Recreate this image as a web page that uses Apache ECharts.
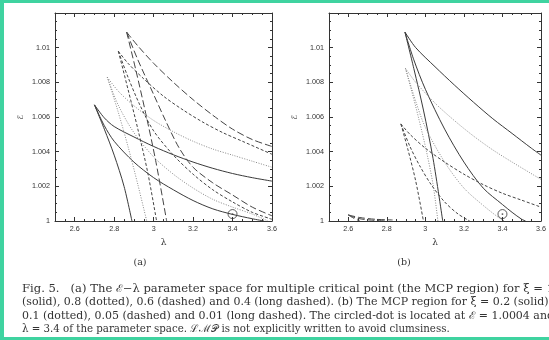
<!DOCTYPE html>
<html><head><meta charset="utf-8">
<script src="https://cdn.jsdelivr.net/npm/echarts@6/dist/echarts.min.js"></script>
<style>html,body{margin:0;padding:0;background:#fff;}#c{width:549px;height:340px;}</style>
</head><body><div id="c"></div>
<script>
// ---- Panel (a): xi = 1 (solid), 0.8 (dotted), 0.6 (dashed), 0.4 (long dashed)
const aSolidSteep = [[2.70,1.0067],[2.75,1.0053],[2.80,1.0038],[2.85,1.0020],[2.89,1.0000]];
const aSolidUpper = [[2.70,1.0067],[2.75,1.00595],[2.80,1.00545],[2.90,1.00485],[3.00,1.0043],[3.10,1.00382],[3.20,1.0034],[3.30,1.00304],[3.40,1.00274],[3.50,1.0025],[3.60,1.0023]];
const aSolidLower = [[2.70,1.0067],[2.75,1.0055],[2.80,1.0046],[2.90,1.0034],[3.00,1.0025],[3.10,1.0018],[3.20,1.00118],[3.30,1.0007],[3.40,1.00038],[3.50,1.00013],[3.56,1.0000]];
const aDotSteep = [[2.765,1.0083],[2.82,1.0063],[2.87,1.0043],[2.92,1.0021],[2.965,1.0000]];
const aDotUpper = [[2.765,1.0083],[2.82,1.0075],[2.90,1.00665],[3.00,1.0058],[3.10,1.00515],[3.20,1.0046],[3.30,1.00415],[3.40,1.0038],[3.50,1.00345],[3.60,1.0031]];
const aDotLower = [[2.765,1.0083],[2.82,1.0067],[2.90,1.0051],[3.00,1.0037],[3.10,1.0027],[3.20,1.0019],[3.30,1.00125],[3.40,1.0008],[3.50,1.0004],[3.58,1.0000]];
const aDashSteep = [[2.821,1.0098],[2.87,1.0076],[2.92,1.0053],[2.97,1.0028],[3.015,1.0000]];
const aDashUpper = [[2.821,1.0098],[2.87,1.0091],[2.95,1.0082],[3.05,1.0072],[3.15,1.0064],[3.25,1.0057],[3.35,1.0051],[3.45,1.0046],[3.60,1.00385]];
const aDashLower = [[2.821,1.0098],[2.87,1.0083],[2.93,1.0067],[3.00,1.0052],[3.10,1.0038],[3.20,1.0027],[3.30,1.0018],[3.40,1.0011],[3.50,1.0005],[3.60,1.0001]];
const aLongSteep = [[2.863,1.0109],[2.91,1.0087],[2.96,1.0062],[3.01,1.0035],[3.066,1.0000]];
const aLongUpper = [[2.863,1.0109],[2.92,1.0101],[3.00,1.0091],[3.10,1.0080],[3.20,1.0070],[3.30,1.0061],[3.40,1.0053],[3.50,1.0047],[3.60,1.0043]];
const aLongLower = [[2.863,1.0109],[2.92,1.0093],[3.00,1.0073],[3.06,1.0058],[3.13,1.0042],[3.20,1.0031],[3.30,1.0022],[3.40,1.0015],[3.50,1.0008],[3.60,1.0003]];
// ---- Panel (b): xi = 0.2 (solid), 0.1 (dotted), 0.05 (dashed), 0.01 (long dashed)
const bSolidSteep = [[2.894,1.0109],[2.94,1.0088],[2.99,1.0064],[3.04,1.0036],[3.09,1.0000]];
const bSolidUpper = [[2.894,1.0109],[2.95,1.0100],[3.05,1.0089],[3.15,1.00785],[3.25,1.00685],[3.35,1.0059],[3.45,1.00505],[3.55,1.0042],[3.60,1.0038]];
const bSolidLower = [[2.894,1.0109],[2.94,1.0093],[3.00,1.0076],[3.10,1.0053],[3.20,1.0034],[3.30,1.0019],[3.40,1.00095],[3.45,1.0005],[3.50,1.0001],[3.52,1.0000]];
const bDotSteep = [[2.897,1.0088],[2.95,1.0066],[3.00,1.0043],[3.04,1.0021],[3.065,1.0000]];
const bDotUpper = [[2.897,1.0088],[2.95,1.0080],[3.05,1.0068],[3.15,1.0058],[3.25,1.0049],[3.35,1.0041],[3.45,1.0034],[3.60,1.0024]];
const bDotLower = [[2.897,1.0088],[2.95,1.0069],[3.00,1.0054],[3.10,1.0034],[3.20,1.0019],[3.30,1.0009],[3.38,1.0002],[3.41,1.0000]];
const bDashSteep = [[2.873,1.0056],[2.91,1.0041],[2.95,1.0023],[2.99,1.0000]];
const bDashUpper = [[2.873,1.0056],[2.92,1.0050],[3.00,1.0042],[3.10,1.0034],[3.20,1.0027],[3.30,1.0021],[3.40,1.0016],[3.50,1.0012],[3.60,1.0008]];
const bDashLower = [[2.873,1.0056],[2.92,1.0043],[2.97,1.0032],[3.03,1.0021],[3.10,1.0011],[3.17,1.0004],[3.23,1.0000]];
const bLongA = [[2.60,1.00035],[2.63,1.00015],[2.66,1.0000]];
const bLongB = [[2.60,1.00035],[2.65,1.00015],[2.72,1.00005],[2.80,1.0000]];
const bLongC = [[2.60,1.00035],[2.66,1.00020],[2.74,1.00010],[2.83,1.00006]];
// circled dot
const circledDot = [[3.4, 1.0004]];
// axes
const xRange = [2.5, 3.6];
const yRange = [1, 1.012];
const yStep = 0.002;
const captionLines = [
  "Fig. 5.   (a) The \u2130\u2212\u03bb parameter space for multiple critical point (the MCP region) for \u03be = 1",
  "(solid), 0.8 (dotted), 0.6 (dashed) and 0.4 (long dashed). (b) The MCP region for \u03be = 0.2 (solid),",
  "0.1 (dotted), 0.05 (dashed) and 0.01 (long dashed). The circled-dot is located at \u2130 = 1.0004 and",
  "\u03bb = 3.4 of the parameter space. \u2112\u2133\ud835\udcab is not explicitly written to avoid clumsiness."
];
const captionRight = [554, 552, 554, 0];   // right end of each justified line (0 = natural width)
const panelLabels = ["(a)", "(b)"];

const chart = echarts.init(document.getElementById('c'), null, {renderer: 'canvas'});
const axCol = '#333';
const lblFont = {fontFamily: 'Liberation Sans', fontSize: 7.2, color: '#333'};
function xAx(g, pos) {
  return {type: 'value', gridIndex: g, position: pos, min: xRange[0], max: xRange[1], splitNumber: 5,
    axisLine: {show: true, lineStyle: {color: axCol, width: 1}},
    axisTick: {show: true, inside: true, length: 4, lineStyle: {color: axCol}},
    minorTick: {show: true, splitNumber: 4, length: 2, lineStyle: {color: axCol}},
    splitLine: {show: false},
    axisLabel: pos === 'bottom' ? Object.assign({show: true, margin: 5, showMinLabel: false,
      formatter: v => String(+v.toFixed(3))}, lblFont) : {show: false},
    name: pos === 'bottom' ? '\u03bb' : '', nameLocation: 'middle', nameGap: 17,
    nameTextStyle: {fontFamily: 'DejaVu Serif', fontSize: 9, color: '#333'}};
}
function yAx(g, pos) {
  return {type: 'value', gridIndex: g, position: pos, min: yRange[0], max: yRange[1], interval: yStep,
    axisLine: {show: true, lineStyle: {color: axCol, width: 1}},
    axisTick: {show: true, inside: true, length: 4, lineStyle: {color: axCol}},
    minorTick: {show: true, splitNumber: 4, length: 2, lineStyle: {color: axCol}},
    splitLine: {show: false},
    axisLabel: pos === 'left' ? Object.assign({show: true, margin: 5, showMaxLabel: false,
      formatter: v => String(+v.toFixed(4))}, lblFont) : {show: false},
    name: pos === 'left' ? '\u2130' : '', nameLocation: 'middle', nameGap: 30, nameRotate: 90,
    nameTextStyle: {fontFamily: 'DejaVu Sans', fontSize: 8, color: '#333'}};
}
const styles = {
  solid: {color: '#3a3a3a', type: 'solid', width: 1},
  dotted: {color: '#8a8a8a', type: [1, 1.5], width: 1},
  dashed: {color: '#444', type: [3, 2], width: 1},
  long: {color: '#444', type: [7, 3], width: 1}
};
function ln(data, g, st) {
  return {type: 'line', xAxisIndex: g * 2, yAxisIndex: g * 2, data: data, smooth: 0.3,
    showSymbol: false, symbol: 'none', lineStyle: styles[st], silent: true, z: 3};
}
const series = [
  ln(aSolidSteep,0,'solid'), ln(aSolidUpper,0,'solid'), ln(aSolidLower,0,'solid'),
  ln(aDotSteep,0,'dotted'), ln(aDotUpper,0,'dotted'), ln(aDotLower,0,'dotted'),
  ln(aDashSteep,0,'dashed'), ln(aDashUpper,0,'dashed'), ln(aDashLower,0,'dashed'),
  ln(aLongSteep,0,'long'), ln(aLongUpper,0,'long'), ln(aLongLower,0,'long'),
  ln(bSolidSteep,1,'solid'), ln(bSolidUpper,1,'solid'), ln(bSolidLower,1,'solid'),
  ln(bDotSteep,1,'dotted'), ln(bDotUpper,1,'dotted'), ln(bDotLower,1,'dotted'),
  ln(bDashSteep,1,'dashed'), ln(bDashUpper,1,'dashed'), ln(bDashLower,1,'dashed'),
  ln(bLongA,1,'long'), ln(bLongB,1,'long'), ln(bLongC,1,'long')
];
[0, 1].forEach(g => {
  series.push({type: 'scatter', xAxisIndex: g * 2, yAxisIndex: g * 2, data: circledDot, symbol: 'circle',
    symbolSize: 9, itemStyle: {color: 'none', borderColor: '#333', borderWidth: 1}, silent: true, z: 4});
  series.push({type: 'scatter', xAxisIndex: g * 2, yAxisIndex: g * 2, data: circledDot, symbol: 'circle',
    symbolSize: 1.8, itemStyle: {color: '#333'}, silent: true, z: 5});
});
const graphics = [
  {type: 'rect', shape: {x: 0, y: 0, width: 4, height: 340}, style: {fill: '#3fd3a0'}, silent: true},
  {type: 'rect', shape: {x: 0, y: 0, width: 549, height: 3}, style: {fill: '#3fd3a0'}, silent: true},
  {type: 'rect', shape: {x: 0, y: 337, width: 549, height: 3}, style: {fill: '#3fd3a0'}, silent: true},
  {type: 'text', x: 140, y: 263, style: {text: panelLabels[0], fontFamily: 'DejaVu Serif', fontSize: 9.5, fill: '#333', align: 'center', verticalAlign: 'middle'}},
  {type: 'text', x: 404, y: 263, style: {text: panelLabels[1], fontFamily: 'DejaVu Serif', fontSize: 9.5, fill: '#333', align: 'center', verticalAlign: 'middle'}}
];
// caption: size chosen so the last (natural width) line spans ~428 px, others justified by horizontal scaling
const capX = 22;
const mctx = document.createElement('canvas').getContext('2d');
let capFs = 10.6;
mctx.font = capFs + 'px "DejaVu Serif"';
capFs = capFs * 428 / mctx.measureText(captionLines[3]).width;
mctx.font = capFs + 'px "DejaVu Serif"';
captionLines.forEach((t, i) => {
  const w = mctx.measureText(t).width;
  const sx = captionRight[i] ? (captionRight[i] - capX) / w : 1;
  graphics.push({type: 'text', x: capX, y: 289 + i * 13.5, scaleX: sx, style: {text: t, fontFamily: 'DejaVu Serif',
    fontSize: capFs, fill: '#333', align: 'left', verticalAlign: 'middle'}});
});
chart.setOption({
  animation: false,
  backgroundColor: '#fff',
  grid: [
    {left: 55, top: 13, width: 217, height: 208, containLabel: false},
    {left: 329, top: 13, width: 216, height: 208, containLabel: false}
  ],
  xAxis: [xAx(0, 'bottom'), xAx(0, 'top'), xAx(1, 'bottom'), xAx(1, 'top')],
  yAxis: [yAx(0, 'left'), yAx(0, 'right'), yAx(1, 'left'), yAx(1, 'right')],
  series: series,
  graphic: graphics
});
</script></body></html>
